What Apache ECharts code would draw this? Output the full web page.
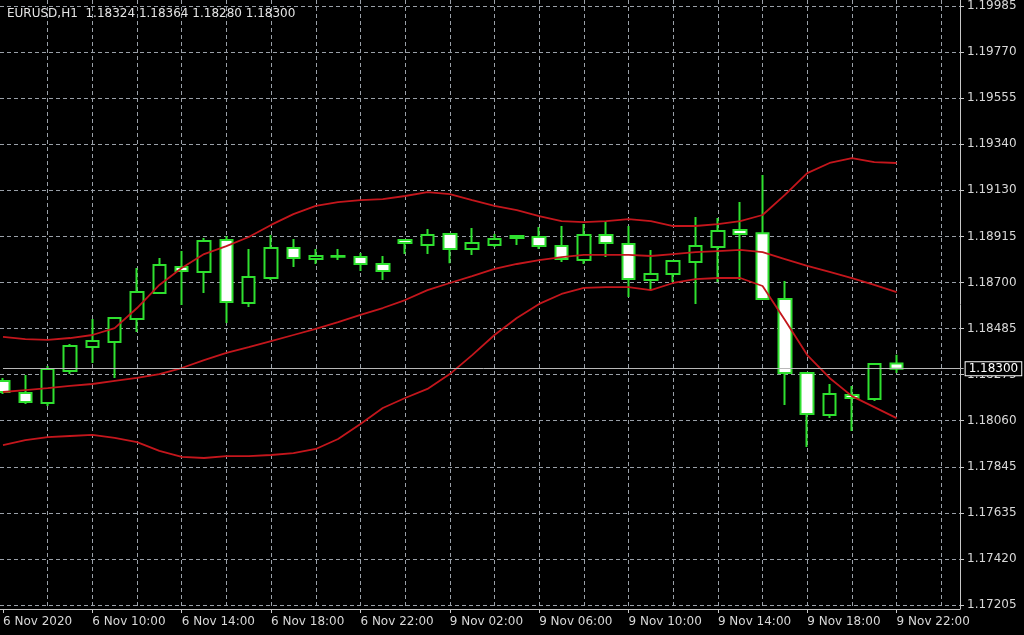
<!DOCTYPE html>
<html>
<head>
<meta charset="utf-8">
<script src="https://cdn.jsdelivr.net/npm/echarts@6/dist/echarts.min.js"></script>
<style>
html,body{margin:0;padding:0;background:#000;}
#chart{width:1024px;height:635px;}
</style>
</head>
<body>
<div id="chart"></div>
<script>
// ---------- data ----------
const symbol = 'EURUSD';
const timeframe = 'H1';
const firstLabel = '6 Nov 2020';
const categories = [
  '6 Nov 06:00','6 Nov 07:00','6 Nov 08:00','6 Nov 09:00','6 Nov 10:00','6 Nov 11:00',
  '6 Nov 12:00','6 Nov 13:00','6 Nov 14:00','6 Nov 15:00','6 Nov 16:00','6 Nov 17:00',
  '6 Nov 18:00','6 Nov 19:00','6 Nov 20:00','6 Nov 21:00','6 Nov 22:00','6 Nov 23:00',
  '9 Nov 00:00','9 Nov 01:00','9 Nov 02:00','9 Nov 03:00','9 Nov 04:00','9 Nov 05:00',
  '9 Nov 06:00','9 Nov 07:00','9 Nov 08:00','9 Nov 09:00','9 Nov 10:00','9 Nov 11:00',
  '9 Nov 12:00','9 Nov 13:00','9 Nov 14:00','9 Nov 15:00','9 Nov 16:00','9 Nov 17:00',
  '9 Nov 18:00','9 Nov 19:00','9 Nov 20:00','9 Nov 21:00','9 Nov 22:00'
];
const open = [
  1.18243,1.18187,1.18141,1.18289,1.18400,1.18424,1.18530,1.18651,1.18771,1.18748,
  1.18896,1.18604,1.18720,1.18859,1.18808,1.18819,1.18817,1.18785,1.18896,1.18873,
  1.18924,1.18854,1.18873,1.18905,1.18910,1.18868,1.18803,1.18919,1.18878,1.18711,
  1.18739,1.18794,1.18864,1.18942,1.18928,1.18623,1.18280,1.18085,1.18178,1.18159,
  1.18324
];
const close = [
  1.18192,1.18146,1.18298,1.18405,1.18428,1.18535,1.18655,1.18780,1.18752,1.18891,
  1.18609,1.18725,1.18859,1.18813,1.18822,1.18822,1.18785,1.18752,1.18882,1.18919,
  1.18854,1.18882,1.18901,1.18915,1.18868,1.18808,1.18919,1.18882,1.18715,1.18739,
  1.18799,1.18868,1.18938,1.18924,1.18623,1.18280,1.18090,1.18183,1.18164,1.18322,
  1.18300
];
const low = [
  1.18183,1.18136,1.18127,1.18275,1.18326,1.18257,1.18470,1.18646,1.18595,1.18651,
  1.18512,1.18586,1.18711,1.18771,1.18785,1.18803,1.18752,1.18711,1.18831,1.18831,
  1.18789,1.18827,1.18864,1.18873,1.18854,1.18794,1.18785,1.18817,1.18632,1.18664,
  1.18701,1.18600,1.18701,1.18711,1.18618,1.18132,1.17937,1.18071,1.18011,1.18150,
  1.18280
];
const high = [
  1.18257,1.18271,1.18312,1.18414,1.18530,1.18539,1.18766,1.18813,1.18845,1.18905,
  1.18915,1.18854,1.18919,1.18901,1.18854,1.18854,1.18836,1.18822,1.18896,1.18947,
  1.18928,1.18952,1.18924,1.18915,1.18956,1.18961,1.18970,1.18979,1.18961,1.18850,
  1.18803,1.19003,1.18998,1.19072,1.19197,1.18706,1.18280,1.18229,1.18220,1.18326,
  1.18364
];
const bbUpper = [
  1.18447,1.18437,1.18433,1.18442,1.18456,1.18488,1.18581,1.18688,1.18766,1.18831,
  1.18868,1.18910,1.18966,1.19016,1.19054,1.19072,1.19081,1.19086,1.19100,1.19118,
  1.19109,1.19081,1.19054,1.19035,1.19007,1.18984,1.18979,1.18984,1.18993,1.18984,
  1.18961,1.18961,1.18970,1.18984,1.19012,1.19105,1.19206,1.19253,1.19276,1.19257,
  1.19253
];
const bbMiddle = [
  1.18192,1.18201,1.18210,1.18220,1.18229,1.18243,1.18257,1.18275,1.18303,1.18340,
  1.18373,1.18400,1.18428,1.18456,1.18484,1.18516,1.18549,1.18581,1.18618,1.18664,
  1.18697,1.18729,1.18762,1.18785,1.18803,1.18817,1.18827,1.18827,1.18827,1.18822,
  1.18831,1.18840,1.18845,1.18850,1.18840,1.18808,1.18776,1.18748,1.18720,1.18688,
  1.18655
];
const bbLower = [
  1.17946,1.17969,1.17983,1.17988,1.17993,1.17979,1.17960,1.17919,1.17891,1.17886,
  1.17895,1.17895,1.17900,1.17909,1.17928,1.17974,1.18044,1.18118,1.18164,1.18206,
  1.18275,1.18363,1.18456,1.18535,1.18600,1.18646,1.18674,1.18678,1.18678,1.18664,
  1.18697,1.18715,1.18720,1.18720,1.18683,1.18525,1.18363,1.18257,1.18173,1.18122,
  1.18071
];
const priceTicks = [
  '1.17205','1.17420','1.17635','1.17845','1.18060','1.18275','1.18485',
  '1.18700','1.18915','1.19130','1.19340','1.19555','1.19770','1.19985'
];

// ---------- layout ----------
const FONT = 'DejaVu Sans';
const TXT = '#d8d8d8';
const GRIDC = '#9aa0a8';
const GREEN = '#2fe02f';
const RED = '#c4161c';
const plotRight = 960, plotBottom = 609, tickTop = 5, tickBottom = 605;
const barStep = 22.41;
const emptySlots = 3;
const nCat = categories.length + emptySlots;
const dataWidth = (nCat - 1) * barStep;

const pMin = parseFloat(priceTicks[0]);
const pMax = parseFloat(priceTicks[priceTicks.length - 1]);
const pxPerUnit = (tickBottom - tickTop) / (pMax - pMin);
const dMin = pMin - (plotBottom - tickBottom) / pxPerUnit;
const dMax = pMax + (tickTop - 0) / pxPerUnit;
const tickInterval = (pMax - pMin) / (priceTicks.length - 1);

const last = categories.length - 1;
const titleText = symbol + ',' + timeframe + '  ' +
  open[last].toFixed(5) + ' ' + high[last].toFixed(5) + ' ' +
  low[last].toFixed(5) + ' ' + close[last].toFixed(5);

const candleData = categories.map((_, i) => [open[i], close[i], low[i], high[i]]);
const axisCats = categories.concat(new Array(emptySlots).fill(''));

const bandLine = (name, data) => ({
  type: 'line', name, xAxisIndex: 0, yAxisIndex: 0, data, symbol: 'none', silent: true,
  lineStyle: {color: RED, width: 1.8}, z: 3
});

const chart = echarts.init(document.getElementById('chart'), null, {renderer: 'canvas'});
chart.setOption({
  backgroundColor: '#000',
  animation: false,
  title: {
    text: titleText, left: 2, top: 3,
    textStyle: {color: '#e4e4e4', fontSize: 12, fontWeight: 'normal', fontFamily: FONT}
  },
  grid: [
    {left: 0, top: 0, width: dataWidth, bottom: 635 - plotBottom},
    {left: 0, top: tickTop, right: 1024 - plotRight, bottom: 635 - tickBottom},
    {left: 0, top: 0, right: 1024 - plotRight, bottom: 635 - plotBottom}
  ],
  xAxis: [
    {
      gridIndex: 0, type: 'category', data: axisCats, boundaryGap: false,
      axisLine: {show: false},
      axisTick: {show: true, interval: 3, length: 4, lineStyle: {color: '#c8c8c8'}},
      axisLabel: {
        interval: 3, align: 'left', margin: 7, color: TXT, fontSize: 12, fontFamily: FONT,
        formatter: (v, idx) => idx === 0 ? firstLabel : v
      },
      splitLine: {
        show: true, interval: (idx) => idx > 0 && idx % 2 === 0,
        lineStyle: {color: GRIDC, type: [4, 3], width: 1}
      }
    },
    {gridIndex: 1, type: 'value', min: 0, max: 1, show: false},
    {
      gridIndex: 2, type: 'value', min: 0, max: 1,
      axisLine: {show: true, onZero: false, lineStyle: {color: '#c8c8c8', width: 1}},
      axisTick: {show: false}, axisLabel: {show: false}, splitLine: {show: false}
    }
  ],
  yAxis: [
    {gridIndex: 0, type: 'value', min: dMin, max: dMax, position: 'right', show: false},
    {
      gridIndex: 1, type: 'value', min: pMin, max: pMax, interval: tickInterval, position: 'right',
      axisLine: {show: false, onZero: false},
      axisTick: {show: true, length: 4, lineStyle: {color: '#c8c8c8'}},
      axisLabel: {
        margin: 7, color: TXT, fontSize: 12, fontFamily: FONT,
        formatter: (v) => priceTicks[Math.round((v - pMin) / tickInterval)] || ''
      },
      splitLine: {show: true, lineStyle: {color: GRIDC, type: [4, 3], width: 1}}
    },
    {
      gridIndex: 2, type: 'value', min: 0, max: 1, position: 'right',
      axisLine: {show: true, onZero: false, lineStyle: {color: '#c8c8c8', width: 1}},
      axisTick: {show: false}, axisLabel: {show: false}, splitLine: {show: false}
    }
  ],
  series: [
    {
      type: 'candlestick', xAxisIndex: 0, yAxisIndex: 0,
      data: candleData, barWidth: 13,
      itemStyle: {
        color: '#000', color0: '#ffffff',
        borderColor: GREEN, borderColor0: GREEN, borderColorDoji: GREEN, borderWidth: 2
      },
      z: 2
    },
    bandLine('upper', bbUpper),
    Object.assign(bandLine('middle', bbMiddle), {
      markLine: {
        silent: true, symbol: ['none', 'none'], precision: 5,
        lineStyle: {color: '#b8b8b8', width: 1, type: 'solid'},
        label: {
          show: true, position: 'end', distance: 2,
          formatter: close[last].toFixed(5),
          color: '#ffffff', fontSize: 12, fontFamily: FONT,
          backgroundColor: '#000', borderColor: '#ffffff', borderWidth: 1, padding: [1, 3, 0, 3]
        },
        data: [{yAxis: close[last]}]
      }
    }),
    bandLine('lower', bbLower)
  ]
});
</script>
</body>
</html>
